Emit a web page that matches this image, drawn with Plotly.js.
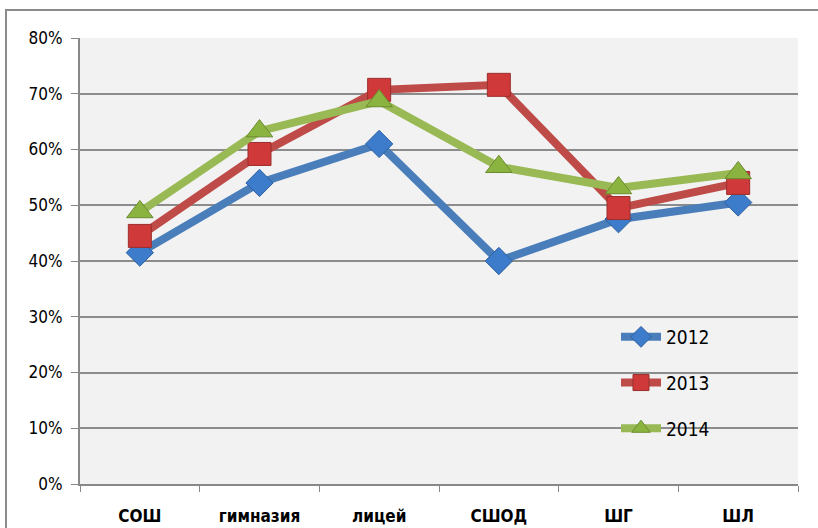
<!DOCTYPE html>
<html>
<head>
<meta charset="utf-8">
<script src="https://cdn.plot.ly/plotly-3.0.1.min.js"></script>
<style>
  html, body { margin: 0; padding: 0; background: #fff; }
  #chart { width: 818px; height: 528px; }
</style>
</head>
<body>
<div id="chart"></div>
<script>
// school types along the x axis
const categories = ['СОШ', 'гимназия', 'лицей', 'СШОД', 'ШГ', 'ШЛ'];

// shares per year, in percent
const y2012 = [41.5, 54.0, 61.0, 40.0, 47.5, 50.5];
const y2013 = [44.5, 59.2, 70.7, 71.6, 49.5, 54.0];
const y2014 = [48.8, 63.3, 68.7, 56.9, 53.1, 55.8];

const yTicks = [0, 10, 20, 30, 40, 50, 60, 70, 80];
const yTickText = yTicks.map((v) => v + '%');

const margin = { l: 80, r: 20, t: 38, b: 44 };
const plotW = 818 - margin.l - margin.r;
const plotH = 528 - margin.t - margin.b;

function series (name, values, lineColor, markerColor, edgeColor, symbol, size) {
  return {
    type: 'scatter',
    mode: 'lines+markers',
    name: name,
    legendgroup: name,
    x: categories,
    y: values,
    line: { color: lineColor, width: 8 },
    marker: {
      symbol: symbol,
      size: size,
      color: markerColor,
      line: { color: edgeColor, width: 1 }
    }
  };
}

const data = [
  series('2012', y2012, '#4A7EBB', '#3C7CCB', '#2D5F9E', 'diamond', 21),
  series('2013', y2013, '#BE4B48', '#D0393A', '#9A2F2C', 'square', 23),
  series('2014', y2014, '#98B954', '#8AB43F', '#6C8C2F', 'triangle-up', 23)
];

const layout = {
  width: 818,
  height: 528,
  margin: margin,
  paper_bgcolor: '#ffffff',
  plot_bgcolor: '#F2F2F2',
  font: { family: 'DejaVu Sans Condensed, Open Sans, sans-serif', color: '#000' },
  showlegend: true,
  legend: {
    x: (616 - margin.l) / plotW,
    y: (484 - 318) / plotH,
    xanchor: 'left',
    yanchor: 'top',
    bgcolor: 'rgba(0,0,0,0)',
    font: { size: 19, family: 'DejaVu Sans Condensed, sans-serif' },
    tracegroupgap: 18,
    itemwidth: 40
  },
  xaxis: {
    type: 'category',
    range: [-0.5, 5.5],
    tickson: 'boundaries',
    ticks: 'outside',
    ticklen: 6,
    tickcolor: '#888',
    showgrid: false,
    showline: true,
    linecolor: '#888',
    linewidth: 2,
    ticklabelstandoff: 16,
    tickfont: { size: 17, family: 'DejaVu Sans Condensed, sans-serif', weight: 'bold' },
    zeroline: false,
    fixedrange: true
  },
  yaxis: {
    range: [0, 80],
    tickvals: yTicks,
    ticktext: yTickText,
    ticks: 'outside',
    ticklen: 7,
    tickcolor: '#888',
    showgrid: true,
    gridcolor: '#8C8C8C',
    gridwidth: 2,
    showline: true,
    linecolor: '#888',
    linewidth: 2,
    zeroline: false,
    ticklabelstandoff: 5,
    tickfont: { size: 17, family: 'DejaVu Sans Condensed, sans-serif' },
    fixedrange: true
  },
  shapes: [
    {
      type: 'rect',
      xref: 'paper',
      yref: 'paper',
      x0: (6 - margin.l) / plotW,
      x1: (830 - margin.l) / plotW,
      y0: (484 - 540) / plotH,
      y1: (484 - 10) / plotH,
      line: { color: '#8C8C8C', width: 2 },
      layer: 'below'
    }
  ]
};

Plotly.newPlot('chart', data, layout, { displayModeBar: false, staticPlot: true });
</script>
</body>
</html>
